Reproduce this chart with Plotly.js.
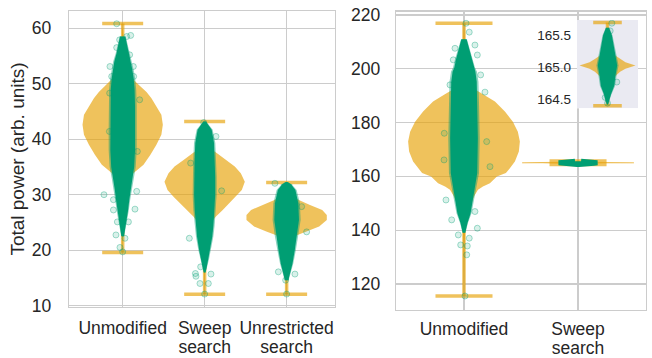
<!DOCTYPE html>
<html><head><meta charset="utf-8">
<script src="https://cdn.plot.ly/plotly-3.0.1.min.js"></script>
<style>html,body{margin:0;padding:0;background:#fff}</style>
</head><body><div id="chart" style="width:652px;height:358px"></div>
<script>
// ---------------- data ----------------
const leftCategories = ['Unmodified', 'Sweep<br>search', 'Unrestricted<br>search'];
const rightCategories = ['Unmodified', 'Sweep<br>search'];
const leftYTicks = [10, 20, 30, 40, 50, 60];
const rightYTicks = [120, 140, 160, 180, 200, 220];
const insetYTicks = [164.5, 165.0, 165.5];
const insetYTickText = ['164.5', '165.0', '165.5'];

// extrema (caps)
const leftMin = [19.6, 12.05, 12.05];
const leftMax = [60.85, 43.2, 32.2];
const rightMin = [115.5, 164.4];
const rightMax = [216.9, 165.7];

// violin density profiles (relative density, peak = 1)
const unmodLViolinY = [60, 56, 53.5, 52, 51, 50.4, 49.5, 48.5, 47.4, 46.2, 44.4, 42.6, 40.8, 39.0, 37.2, 35.4, 34.5, 33.9, 33.0, 32.0, 30, 26, 21, 19.6];
const unmodLViolinD = [0.007, 0.037, 0.099, 0.173, 0.247, 0.314, 0.444, 0.593, 0.716, 0.815, 0.963, 1, 0.963, 0.84, 0.691, 0.519, 0.37, 0.272, 0.173, 0.099, 0.049, 0.017, 0.005, 0];
const sweepLViolinY = [43.2, 42, 39.5, 38, 37.5, 36.26, 35.06, 33.86, 32.35, 30.85, 29.65, 28.45, 27.25, 26.05, 25.1, 24, 22, 18, 14, 12.05];
const sweepLViolinD = [0, 0.013, 0.075, 0.2, 0.3, 0.525, 0.75, 0.9, 1, 0.925, 0.775, 0.625, 0.45, 0.275, 0.175, 0.1, 0.05, 0.015, 0.005, 0];
const unresViolinY = [32.2, 31, 30, 29.05, 28.15, 27.25, 26.35, 25.45, 24.25, 23.35, 22.45, 21.5, 20, 17, 13, 12.05];
const unresViolinD = [0, 0.038, 0.101, 0.304, 0.582, 0.886, 1, 1, 0.81, 0.506, 0.177, 0.076, 0.038, 0.013, 0.005, 0];
const unmodRViolinY = [216.9, 208, 200, 195, 192.1, 190.3, 187.8, 184.1, 180.3, 176.6, 172.9, 169.2, 165.5, 163.0, 161.2, 159.9, 157.4, 156.2, 155.0, 152.5, 148.7, 143.8, 135, 125, 115.5];
const unmodRViolinD = [0, 0.018, 0.054, 0.125, 0.214, 0.357, 0.554, 0.732, 0.875, 0.964, 1, 0.982, 0.911, 0.821, 0.75, 0.589, 0.464, 0.339, 0.25, 0.179, 0.107, 0.027, 0.009, 0.005, 0];
const sweepRViolinY = [165.7, 165.5, 165.33, 165.23, 165.13, 165.08, 165.03, 164.98, 164.93, 164.83, 164.73, 164.55, 164.4];
const sweepRViolinD = [0, 0.02, 0.06, 0.13, 0.45, 0.64, 1, 0.64, 0.45, 0.2, 0.08, 0.02, 0];

// jittered-point clouds: value levels and visible half-spread (category units)
const unmodLCloudY = [58.5, 57, 55.5, 54, 52.5, 51, 49, 46, 42, 38, 35, 33, 31, 29, 27, 25.5, 24, 22.5];
const unmodLCloudW = [0.037, 0.061, 0.085, 0.116, 0.134, 0.152, 0.165, 0.171, 0.171, 0.171, 0.159, 0.134, 0.11, 0.091, 0.073, 0.055, 0.037, 0.018];
const sweepLCloudY = [43.2, 41.7, 39.3, 36, 33.3, 30, 27.25, 24.5, 22.45, 20.05, 18.5, 17, 16];
const sweepLCloudW = [0.018, 0.098, 0.13, 0.14, 0.146, 0.146, 0.138, 0.122, 0.106, 0.077, 0.055, 0.03, 0.012];
const unresCloudY = [32.3, 31.9, 30.85, 28.45, 25.45, 22.45, 20.05, 17.65, 15.85, 14.6];
const unresCloudW = [0.012, 0.061, 0.122, 0.162, 0.171, 0.143, 0.113, 0.082, 0.049, 0.024];
const unmodRCloudY = [211, 207, 203.5, 200.5, 198.9, 195.2, 186.5, 174.1, 161.2, 151.2, 146.3, 142.6, 139];
const unmodRCloudW = [0.026, 0.053, 0.079, 0.096, 0.114, 0.127, 0.132, 0.138, 0.132, 0.088, 0.066, 0.035, 0.013];
const sweepRCloudY = [165.62, 165.5, 165.34, 165.18, 165.03, 164.87, 164.71, 164.58, 164.47, 164.42];
const sweepRCloudW = [0.03, 0.087, 0.123, 0.158, 0.193, 0.158, 0.132, 0.07, 0.035, 0.01];

// sparse individual points (offset from category centre, value)
const unmodLPtsDX = [0.049, 0.098, -0.037, -0.073, 0.085, -0.155, 0.13, -0.134, 0.134, -0.159, 0.207, -0.162, 0.179, -0.228, -0.113, 0.171, 0.15, -0.113, -0.065, 0.07, -0.082, 0.028, -0.033, 0, -0.073];
const unmodLPtsY = [58.5, 58.7, 57.9, 56.5, 55.2, 53.1, 53.1, 51.3, 51.3, 48.3, 47.1, 41.4, 37.8, 30.0, 29.1, 30.6, 27.4, 27.25, 25.1, 25.1, 22.75, 22.15, 20.5, 19.7, 60.8];
const sweepLPtsDX = [-0.113, -0.106, 0.077, -0.057, 0.045, -0.187, 0.207, -0.171, 0.138, -0.049, 0, -0.012];
const sweepLPtsY = [15.8, 15.3, 15.7, 14.0, 14.0, 22.15, 30.7, 35.7, 40.5, 17.0, 12.1, 43.0];
const unresPtsDX = [0.244, 0.101, -0.012, 0, 0.183, -0.101, -0.143];
const unresPtsY = [23.3, 15.7, 14.6, 12.1, 27.85, 16.1, 32.05];
const unmodRPtsDX = [0.046, 0.018, -0.079, 0.096, 0.117, -0.094, 0.146, 0.184, -0.123, 0.228, -0.173, -0.175, 0.199, -0.158, -0.108, -0.05, 0.046, -0.029, 0.029, 0.024, 0.117, 0.009, 0.096];
const unmodRPtsY = [213.6, 216.9, 207.6, 208.8, 205.1, 203.3, 197.7, 191.3, 194.0, 163.6, 176.0, 166.1, 172.9, 151.2, 143.8, 138.2, 137.0, 134.5, 134.1, 130.8, 140.7, 115.5, 146.9];
const sweepRPtsDX = [0.076, 0.047, 0, -0.04, 0.163];
const sweepRPtsY = [165.69, 165.57, 164.44, 164.53, 164.77];

// ---------------- styling ----------------
const ORANGE = 'rgba(230,159,0,0.64)';
const GREEN = '#009E73';
const GREEN_HALO = 'rgba(0,158,115,0.45)';
const VIOLIN_W = 0.49;
const CAP_HW = 0.25;
const CORE = 0.88;
const FONT = 'Liberation Sans, Arial, sans-serif';
const TXT = '#262626';
const GRID = '#cccccc';

function profile(c, ys, ws, scale) {
  const x = [], y = [];
  for (let i = 0; i < ys.length; i++) { x.push(c + ws[i] * scale); y.push(ys[i]); }
  for (let i = ys.length - 1; i >= 0; i--) { x.push(c - ws[i] * scale); y.push(ys[i]); }
  return {x, y};
}
function filled(p, color, xa, ya, lineW, lineColor) {
  return {type: 'scatter', mode: 'lines', x: p.x, y: p.y, xaxis: xa, yaxis: ya,
    fill: 'toself', fillcolor: color,
    line: {width: lineW || 0, color: lineColor || color, shape: 'linear'},
    hoverinfo: 'skip', showlegend: false};
}
function caps(cats, mins, maxs, xa, ya, w) {
  const x = [], y = [];
  cats.forEach((_, i) => {
    x.push(i - CAP_HW, i + CAP_HW, null, i, i, null, i - CAP_HW, i + CAP_HW, null);
    y.push(maxs[i], maxs[i], null, mins[i], maxs[i], null, mins[i], mins[i], null);
  });
  return {type: 'scatter', mode: 'lines', x, y, xaxis: xa, yaxis: ya,
    line: {color: ORANGE, width: w}, connectgaps: false, hoverinfo: 'skip', showlegend: false};
}
function pts(c, dx, ys, xa, ya) {
  return {type: 'scatter', mode: 'markers', x: dx.map(d => c + d), y: ys, xaxis: xa, yaxis: ya,
    marker: {size: 6, color: 'rgba(0,158,115,0.15)', line: {color: 'rgba(0,158,115,0.35)', width: 1}},
    hoverinfo: 'skip', showlegend: false};
}

const insetXRange = [-0.533, 0.533];
const insetYRange = [164.36, 165.74];

const traces = [];
// left panel
traces.push(filled(profile(0, unmodLViolinY, unmodLViolinD, VIOLIN_W), ORANGE, 'x', 'y'));
traces.push(filled(profile(1, sweepLViolinY, sweepLViolinD, VIOLIN_W), ORANGE, 'x', 'y'));
traces.push(filled(profile(2, unresViolinY, unresViolinD, VIOLIN_W), ORANGE, 'x', 'y'));
traces.push(caps(leftCategories, leftMin, leftMax, 'x', 'y', 3.5));
[[0, unmodLCloudY, unmodLCloudW], [1, sweepLCloudY, sweepLCloudW], [2, unresCloudY, unresCloudW]].forEach(([c, ys, ws]) => {
  traces.push(filled(profile(c, ys, ws, 1), GREEN_HALO, 'x', 'y'));
  traces.push(filled(profile(c, ys, ws, CORE), GREEN, 'x', 'y'));
});
traces.push(pts(0, unmodLPtsDX, unmodLPtsY, 'x', 'y'));
traces.push(pts(1, sweepLPtsDX, sweepLPtsY, 'x', 'y'));
traces.push(pts(2, unresPtsDX, unresPtsY, 'x', 'y'));

// right panel
traces.push(filled(profile(0, unmodRViolinY, unmodRViolinD, VIOLIN_W), ORANGE, 'x2', 'y2'));
traces.push(filled(profile(1, sweepRViolinY, sweepRViolinD, VIOLIN_W), ORANGE, 'x2', 'y2', 0.6, ORANGE));
traces.push(caps(rightCategories, rightMin, rightMax, 'x2', 'y2', 3.5));
traces.push(filled(profile(0, unmodRCloudY, unmodRCloudW, 1), GREEN_HALO, 'x2', 'y2'));
traces.push(filled(profile(0, unmodRCloudY, unmodRCloudW, CORE), GREEN, 'x2', 'y2'));
traces.push(filled(profile(1, sweepRCloudY, sweepRCloudW, CORE), GREEN, 'x2', 'y2', 5, GREEN));
traces.push(pts(0, unmodRPtsDX, unmodRPtsY, 'x2', 'y2'));

// inset (zoom on sweep search)
traces.push({type: 'scatter', mode: 'lines', xaxis: 'x3', yaxis: 'y3',
  x: [insetXRange[0], insetXRange[1], insetXRange[1], insetXRange[0], insetXRange[0]],
  y: [insetYRange[0], insetYRange[0], insetYRange[1], insetYRange[1], insetYRange[0]],
  fill: 'toself', fillcolor: '#EAEAF2', line: {width: 0}, hoverinfo: 'skip', showlegend: false});
traces.push(filled(profile(0, sweepRViolinY, sweepRViolinD, VIOLIN_W), ORANGE, 'x3', 'y3'));
traces.push(caps(['Sweep'], [rightMin[1]], [rightMax[1]], 'x3', 'y3', 3.5));
traces.push(filled(profile(0, sweepRCloudY, sweepRCloudW, 1), GREEN_HALO, 'x3', 'y3'));
traces.push(filled(profile(0, sweepRCloudY, sweepRCloudW, CORE), GREEN, 'x3', 'y3'));
traces.push(pts(0, sweepRPtsDX, sweepRPtsY, 'x3', 'y3'));

const axBase = {showgrid: true, gridcolor: GRID, gridwidth: 1.2, zeroline: false,
  showline: true, linecolor: GRID, linewidth: 1.3, mirror: true, ticks: '',
  tickfont: {family: FONT, size: 17.5, color: TXT}, fixedrange: true};

const layout = {
  width: 652, height: 358,
  margin: {l: 0, r: 0, t: 0, b: 0},
  paper_bgcolor: '#ffffff', plot_bgcolor: '#ffffff',
  showlegend: false, hovermode: false,
  font: {family: FONT, color: TXT},
  xaxis: Object.assign({}, axBase, {domain: [0.1058, 0.5138], range: [-0.655, 2.59],
    tickvals: [0, 1, 2], ticktext: leftCategories, anchor: 'y', ticklabelstandoff: 5}),
  yaxis: Object.assign({}, axBase, {domain: [0.1425, 0.9693], range: [9.77, 63.1],
    tickvals: leftYTicks, anchor: 'x', ticklabelstandoff: 13,
    title: {text: 'Total power (arb. units)', font: {family: FONT, size: 19, color: TXT}, standoff: 2}}),
  xaxis2: Object.assign({}, axBase, {domain: [0.6074, 0.9908], range: [-0.596, 1.596],
    tickvals: [0, 1], ticktext: rightCategories, anchor: 'y2', ticklabelstandoff: 3}),
  yaxis2: Object.assign({}, axBase, {domain: [0.1341, 0.9673], range: [110.3, 221.2],
    tickvals: rightYTicks, anchor: 'x2', ticklabelstandoff: 11}),
  xaxis3: {domain: [0.885, 0.9785], range: insetXRange, anchor: 'y3', showgrid: false, zeroline: false,
    showline: false, showticklabels: false, ticks: '', fixedrange: true},
  yaxis3: {domain: [0.6975, 0.9441], range: insetYRange, anchor: 'free', position: 0.8758, showgrid: false, zeroline: false,
    showline: false, ticks: '', tickvals: insetYTicks, ticktext: insetYTickText, ticklabelstandoff: 0,
    tickfont: {family: FONT, size: 13.5, color: TXT}, fixedrange: true}
};

// matplotlib-like tighter line spacing for two-line category labels
function tightenLabels() {
  document.querySelectorAll('.xaxislayer-above text tspan.line').forEach(t => {
    const dy = parseFloat(t.getAttribute('dy'));
    if (dy > 0) t.setAttribute('dy', (dy / 1.3 * 1.08).toFixed(3) + 'em');
  });
}
Plotly.newPlot('chart', traces, layout, {staticPlot: true, displayModeBar: false}).then(tightenLabels);
</script>
</body></html>
